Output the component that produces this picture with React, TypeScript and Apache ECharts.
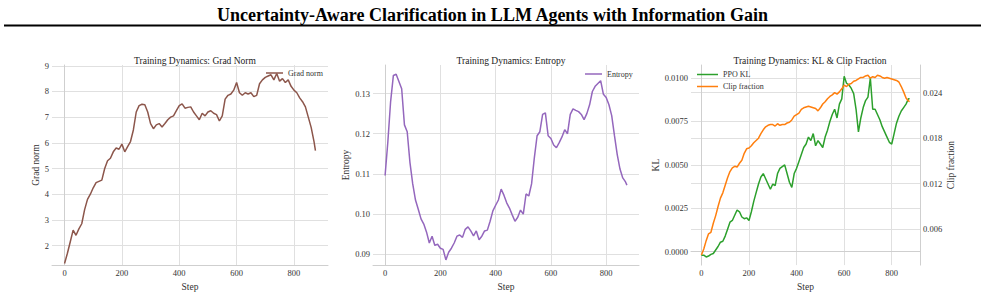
import React, { useEffect, useRef } from "react";
import * as echarts from "echarts";

const steps = [
  0, 10, 20, 30, 40, 50, 60, 70, 80, 90,
  100, 110, 120, 130, 140, 150, 160, 170, 180, 190,
  200, 210, 220, 230, 240, 250, 260, 270, 280, 290,
  300, 310, 320, 330, 340, 350, 360, 370, 380, 390,
  400, 410, 420, 430, 440, 450, 460, 470, 480, 490,
  500, 510, 520, 530, 540, 550, 560, 570, 580, 590,
  600, 610, 620, 630, 640, 650, 660, 670, 680, 690,
  700, 710, 720, 730, 740, 750, 760, 770, 780, 790,
  800, 810, 820, 830, 840, 850, 860, 870, 875,
];

const gradNorm = [
  1.3, 1.7, 2.15, 2.6, 2.4, 2.65, 2.85, 3.4, 3.8, 4.0,
  4.25, 4.45, 4.5, 4.55, 5.0, 5.3, 5.4, 5.65, 5.8, 5.75,
  5.95, 5.65, 5.85, 6.05, 6.5, 7.2, 7.45, 7.5, 7.48, 7.2,
  6.75, 6.55, 6.7, 6.75, 6.62, 6.75, 6.9, 7.0, 7.05, 7.25,
  7.45, 7.52, 7.35, 7.38, 7.4, 7.2, 7.05, 6.9, 7.15, 7.05,
  7.2, 7.25, 7.15, 7.1, 6.85, 7.05, 7.7, 7.85, 7.9, 8.05,
  8.35, 7.95, 7.85, 7.95, 7.9, 7.95, 7.8, 7.85, 8.3, 8.45,
  8.55, 8.6, 8.65, 8.45, 8.7, 8.4, 8.5, 8.35, 8.45, 8.2,
  8.05, 7.95, 7.75, 7.6, 7.4, 7.0, 6.6, 6.05, 5.7,
];

const entropy = [
  0.1096, 0.118, 0.128, 0.1345, 0.1348, 0.133, 0.1312, 0.1222, 0.1205, 0.1128,
  0.1075, 0.1035, 0.1012, 0.0988, 0.0975, 0.0955, 0.0928, 0.0945, 0.0922, 0.0925,
  0.0915, 0.0912, 0.0886, 0.0905, 0.0915, 0.0928, 0.0945, 0.0948, 0.0942, 0.0962,
  0.0968, 0.0958, 0.0946, 0.0958, 0.0936, 0.0945, 0.0958, 0.096, 0.0982, 0.1008,
  0.1022, 0.1035, 0.1062, 0.1047, 0.1028, 0.1015, 0.0998, 0.0982, 0.0992, 0.101,
  0.1, 0.105, 0.1045, 0.1075, 0.114, 0.1195, 0.1205, 0.1248, 0.1252, 0.1195,
  0.1188, 0.1172, 0.1165, 0.1178, 0.1192, 0.121, 0.12, 0.1248, 0.1262, 0.1258,
  0.1255, 0.1248, 0.1235, 0.125, 0.1272, 0.1305, 0.1318, 0.1325, 0.1332, 0.1298,
  0.129, 0.1272, 0.1245, 0.1195, 0.1148, 0.1112, 0.109, 0.108, 0.1072,
];

const ppoKl = [
  -0.0002, -0.0002, -0.0003, -0.00025, -0.00015, -0.0001, 0.0001, 0.0003, 0.00055, 0.0006,
  0.0009, 0.0013, 0.0017, 0.0018, 0.0021, 0.0024, 0.0023, 0.002, 0.0019, 0.00195,
  0.0018, 0.0023, 0.0029, 0.0034, 0.0039, 0.0043, 0.0045, 0.0042, 0.0039, 0.0036,
  0.0039, 0.0038, 0.0045, 0.0048, 0.0049, 0.005, 0.0045, 0.004, 0.0037, 0.0045,
  0.0048, 0.0052, 0.0056, 0.006, 0.0062, 0.0066, 0.0064, 0.0068, 0.0061, 0.0064,
  0.0062, 0.006, 0.0066, 0.007, 0.0075, 0.0079, 0.0082, 0.0077, 0.0085, 0.0088,
  0.0101, 0.0097, 0.0096, 0.0094, 0.0091, 0.0082, 0.0069, 0.0077, 0.0083, 0.0087,
  0.0089, 0.01, 0.0082, 0.0082, 0.0079, 0.0076, 0.0072, 0.0069, 0.0066, 0.0063,
  0.0062, 0.0068, 0.0074, 0.0078, 0.0081, 0.0083, 0.0085, 0.0088, 0.0088,
];

const clipFraction = [
  0.0026, 0.0034, 0.0045, 0.0054, 0.0056, 0.0068, 0.0078, 0.009, 0.0101, 0.0108,
  0.0118, 0.0128, 0.0136, 0.0141, 0.0143, 0.0142, 0.0147, 0.0151, 0.016, 0.0166,
  0.0167, 0.017, 0.0174, 0.0177, 0.018, 0.0186, 0.0191, 0.0195, 0.0197, 0.0198,
  0.0198, 0.0196, 0.0199, 0.0197, 0.0198, 0.0198, 0.02, 0.0201, 0.0204, 0.0209,
  0.0211, 0.0213, 0.0218, 0.022, 0.0221, 0.0222, 0.0221, 0.022, 0.0219, 0.0216,
  0.022, 0.0225, 0.0228, 0.0232, 0.0235, 0.0237, 0.024, 0.0238, 0.0241, 0.0245,
  0.025, 0.0248, 0.0251, 0.0252, 0.0255, 0.0256, 0.0258, 0.026, 0.026, 0.0262,
  0.0263, 0.0259, 0.0261, 0.026, 0.0263, 0.0262, 0.026, 0.0259, 0.026, 0.0259,
  0.0258, 0.0257, 0.0256, 0.0254, 0.0248, 0.0241, 0.0233, 0.0229, 0.0228,
];

const xTicks = [0, 200, 400, 600, 800];
const gradTicks = [2, 3, 4, 5, 6, 7, 8, 9];
const entropyTicks = [0.09, 0.1, 0.11, 0.12, 0.13];
const klTicks = [0, 0.0025, 0.005, 0.0075, 0.01];
const clipTicks = [0.006, 0.012, 0.018, 0.024];

const FONT = "Liberation Serif";
const GRID_COLOR = "#e0e0e0";
const SPINE_COLOR = "#cfcfcf";
const TEXT_COLOR = "#333333";

function pairs(ys: number[]) {
  return steps.map((s, i) => [s, ys[i]]);
}

function xAxis(gridIndex: number) {
  return {
    type: "value",
    gridIndex,
    min: -43.75,
    max: 918.75,
    name: "Step",
    nameLocation: "middle",
    nameGap: 11,
    nameTextStyle: { fontFamily: FONT, fontSize: 9.5, color: TEXT_COLOR },
    axisLine: { show: true, lineStyle: { color: SPINE_COLOR, width: 1 } },
    axisTick: { show: false, customValues: xTicks },
    axisLabel: {
      customValues: xTicks,
      fontFamily: FONT,
      fontSize: 8.5,
      color: TEXT_COLOR,
      margin: 3,
    },
    splitLine: { show: true, lineStyle: { color: GRID_COLOR, width: 1 } },
  };
}

function yAxis(
  gridIndex: number,
  min: number,
  max: number,
  ticks: number[],
  name: string,
  nameGap: number,
  decimals: number,
  position: "left" | "right" = "left"
) {
  return {
    type: "value",
    gridIndex,
    position,
    min,
    max,
    name,
    nameLocation: "middle",
    nameGap,
    nameTextStyle: { fontFamily: FONT, fontSize: 9.5, color: TEXT_COLOR },
    axisLine: { show: true, lineStyle: { color: SPINE_COLOR, width: 1 } },
    axisTick: { show: false, customValues: ticks },
    axisLabel: {
      customValues: ticks,
      fontFamily: FONT,
      fontSize: 8.5,
      color: TEXT_COLOR,
      margin: 3,
      formatter: (v: number) => v.toFixed(decimals),
    },
    splitLine: { show: true, lineStyle: { color: GRID_COLOR, width: 1 } },
  };
}

function lineSeries(name: string, data: number[], color: string, xi: number, yi: number) {
  return {
    type: "line",
    name,
    xAxisIndex: xi,
    yAxisIndex: yi,
    data: pairs(data),
    showSymbol: false,
    symbol: "none",
    lineStyle: { color, width: 1.5 },
    itemStyle: { color },
    z: 3,
  };
}

export default function App() {
  const ref = useRef<HTMLDivElement>(null);

  useEffect(() => {
    if (!ref.current) return;
    const chart = echarts.init(ref.current, null, { renderer: "svg" });
    const subTitle = (text: string, cx: number) => ({
      text,
      left: cx,
      top: 51,
      textAlign: "center",
      textStyle: { fontFamily: FONT, fontSize: 9.5, fontWeight: "normal", color: "#222" },
    });
    const legendText = { fontFamily: FONT, fontSize: 8, color: TEXT_COLOR };
    chart.setOption({
      animation: false,
      backgroundColor: "#ffffff",
      title: [
        {
          text: "Uncertainty-Aware Clarification in LLM Agents with Information Gain",
          left: "center",
          top: 1,
          textStyle: { fontFamily: FONT, fontSize: 18, fontWeight: "bold", color: "#000" },
        },
        subTitle("Training Dynamics: Grad Norm", 190),
        subTitle("Training Dynamics: Entropy", 506),
        subTitle("Training Dynamics: KL & Clip Fraction", 805),
      ],
      graphic: [
        {
          type: "line",
          shape: { x1: 4, y1: 25.5, x2: 981, y2: 25.5 },
          style: { stroke: "#000", lineWidth: 2 },
        },
      ],
      legend: [
        {
          data: ["Grad norm"],
          left: 266,
          top: 69,
          icon: "rect",
          itemWidth: 17,
          itemHeight: 1.5,
          itemGap: 4,
          textStyle: legendText,
          padding: 0,
        },
        {
          data: ["Entropy"],
          left: 585,
          top: 70,
          icon: "rect",
          itemWidth: 17,
          itemHeight: 1.5,
          textStyle: legendText,
          padding: 0,
        },
        {
          data: ["PPO KL", "Clip fraction"],
          left: 697,
          top: 70,
          orient: "vertical",
          icon: "rect",
          itemWidth: 21,
          itemHeight: 1.5,
          itemGap: 3,
          textStyle: { ...legendText, lineHeight: 9 },
          padding: 0,
        },
      ],
      grid: [
        { left: 52, top: 65, width: 276, height: 205, containLabel: false },
        { left: 373, top: 65, width: 266, height: 205, containLabel: false },
        { left: 691, top: 65, width: 229, height: 205, containLabel: false },
      ],
      xAxis: [xAxis(0), xAxis(1), xAxis(2)],
      yAxis: [
        yAxis(0, 1.24, 9.03, gradTicks, "Grad norm", 9, 0),
        yAxis(1, 0.0873, 0.1371, entropyTicks, "Entropy", 18, 2),
        yAxis(2, -0.00077, 0.01075, klTicks, "KL", 24, 4),
        yAxis(2, 0.00128, 0.02764, clipTicks, "Clip fraction", 21, 3, "right"),
      ],
      series: [
        lineSeries("Grad norm", gradNorm, "#8c564b", 0, 0),
        lineSeries("Entropy", entropy, "#9467bd", 1, 1),
        lineSeries("PPO KL", ppoKl, "#2ca02c", 2, 2),
        lineSeries("Clip fraction", clipFraction, "#ff7f0e", 2, 3),
      ],
    });
    return () => chart.dispose();
  }, []);

  return (
    <div
      ref={ref}
      style={{ position: "fixed", left: 0, top: 0, width: 985, height: 297, background: "#fff" }}
    />
  );
}
